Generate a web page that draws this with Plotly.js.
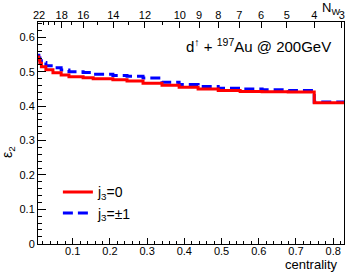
<!DOCTYPE html>
<html>
<head>
<meta charset="utf-8">
<script src="https://cdn.plot.ly/plotly-3.0.1.min.js"></script>
<style>
html,body{margin:0;padding:0;background:#fff;}
#chart{width:349px;height:273px;}
</style>
</head>
<body>
<div id="chart"></div>
<script>
// centrality bin edges (step histogram)
var binEdges = [0.0068, 0.009, 0.012, 0.016, 0.028, 0.047, 0.069, 0.090, 0.128, 0.155, 0.208, 0.246, 0.289, 0.340, 0.386, 0.437, 0.491, 0.550, 0.609, 0.679, 0.749, 0.829];
// epsilon_2 for j3 = 0 (red)
var eps2J0 = [0.543, 0.535, 0.525, 0.515, 0.506, 0.497, 0.491, 0.486, 0.483, 0.480, 0.477, 0.473, 0.467, 0.461, 0.455, 0.450, 0.446, 0.443, 0.442, 0.441, 0.410];
// epsilon_2 for j3 = +-1 (blue)
var eps2J1 = [0.548, 0.540, 0.532, 0.527, 0.518, 0.512, 0.505, 0.500, 0.498, 0.493, 0.489, 0.487, 0.482, 0.470, 0.463, 0.457, 0.452, 0.450, 0.448, 0.446, 0.412];
// top axis: number of wounded nucleons
var nwLabels = ['22', '18', '16', '14', '12', '10', '9', '8', '7', '6', '5', '4', '3'];
var nwPos = [0.0095, 0.0704, 0.1285, 0.209, 0.294, 0.388, 0.4395, 0.491, 0.548, 0.606, 0.675, 0.7495, 0.823];
var nwMinorPos = [0.0075, 0.0082, 0.0088, 0.022, 0.036, 0.052, 0.098, 0.167, 0.250, 0.340];
var yTicks = [0, 0.1, 0.2, 0.3, 0.4, 0.5, 0.6];
var xTicks = [0.1, 0.2, 0.3, 0.4, 0.5, 0.6, 0.7, 0.8];

function stepY(vals) { return vals.concat([vals[vals.length - 1]]); }

var font = 'Liberation Sans, Arial, Helvetica, sans-serif';

var traces = [
  {
    x: binEdges, y: stepY(eps2J1), type: 'scatter', mode: 'lines',
    line: {shape: 'hv', color: '#0000ff', width: 3, dash: '10px,5px'},
    name: 'j<sub>3</sub>=±1', xaxis: 'x', yaxis: 'y'
  },
  {
    x: binEdges, y: stepY(eps2J0), type: 'scatter', mode: 'lines',
    line: {shape: 'hv', color: '#ff0000', width: 3},
    name: 'j<sub>3</sub>=0', xaxis: 'x', yaxis: 'y'
  },
  {
    x: [nwPos[0]], y: [null], type: 'scatter', mode: 'lines',
    showlegend: false, xaxis: 'x2', yaxis: 'y', hoverinfo: 'skip'
  }
];

var layout = {
  width: 349, height: 273,
  margin: {l: 38, r: 5, t: 22, b: 29},
  paper_bgcolor: '#fff', plot_bgcolor: '#fff',
  font: {family: font, size: 11, color: '#000'},
  showlegend: true,
  legend: {
    x: 0.065, y: 0.305, xanchor: 'left', yanchor: 'top',
    traceorder: 'reversed', bgcolor: 'rgba(0,0,0,0)', borderwidth: 0,
    font: {family: font, size: 14, color: '#000'}
  },
  xaxis: {
    range: [0.0068, 0.829], showgrid: false, zeroline: false,
    showline: true, linecolor: '#000', linewidth: 1, mirror: true,
    tickmode: 'array', tickvals: xTicks,
    ticks: 'inside', ticklen: 6, tickcolor: '#000', ticklabelstandoff: -3,
    tickfont: {family: font, size: 11, color: '#000'},
    minor: {ticks: 'inside', dtick: 0.02, tick0: 0, ticklen: 3, tickcolor: '#000'}
  },
  xaxis2: {
    overlaying: 'x', side: 'top', anchor: 'y',
    range: [0.0068, 0.829], showgrid: false, zeroline: false, showline: false,
    tickmode: 'array', tickvals: nwPos, ticktext: nwLabels,
    ticks: 'inside', ticklen: 6, tickcolor: '#000',
    tickfont: {family: font, size: 11, color: '#000'},
    minor: {ticks: 'inside', tickmode: 'array', tickvals: nwMinorPos, ticklen: 3, tickcolor: '#000'}
  },
  yaxis: {
    range: [-0.001, 0.645], showgrid: false, zeroline: false,
    showline: true, linecolor: '#000', linewidth: 1, mirror: true,
    tickmode: 'array', tickvals: yTicks,
    ticks: 'inside', ticklen: 8, tickcolor: '#000',
    tickfont: {family: font, size: 11, color: '#000'},
    minor: {ticks: 'inside', dtick: 0.02, tick0: 0, ticklen: 4, tickcolor: '#000'}
  },
  annotations: [
    {text: 'd<sup>↑</sup> + <sup>197</sup>Au @ 200GeV', xref: 'paper', yref: 'paper',
     x: 0.964, y: 0.896, xanchor: 'right', yanchor: 'middle', showarrow: false,
     font: {family: font, size: 15, color: '#000'}},
    {text: 'ε<sub>2</sub>', xref: 'paper', yref: 'paper',
     x: -0.098, y: 0.414, xanchor: 'center', yanchor: 'middle', textangle: -90, showarrow: false,
     font: {family: font, size: 14, color: '#000'}},
    {text: 'centrality', xref: 'paper', yref: 'paper',
     x: 0.987, y: -0.093, xanchor: 'right', yanchor: 'middle', showarrow: false,
     font: {family: font, size: 13, color: '#000'}},
    {text: 'N<sub>W</sub>', xref: 'paper', yref: 'paper',
     x: 0.92, y: 1.062, xanchor: 'left', yanchor: 'middle', showarrow: false,
     font: {family: font, size: 13, color: '#000'}}
  ]
};

Plotly.newPlot('chart', traces, layout, {displayModeBar: false, staticPlot: true});
</script>
</body>
</html>
